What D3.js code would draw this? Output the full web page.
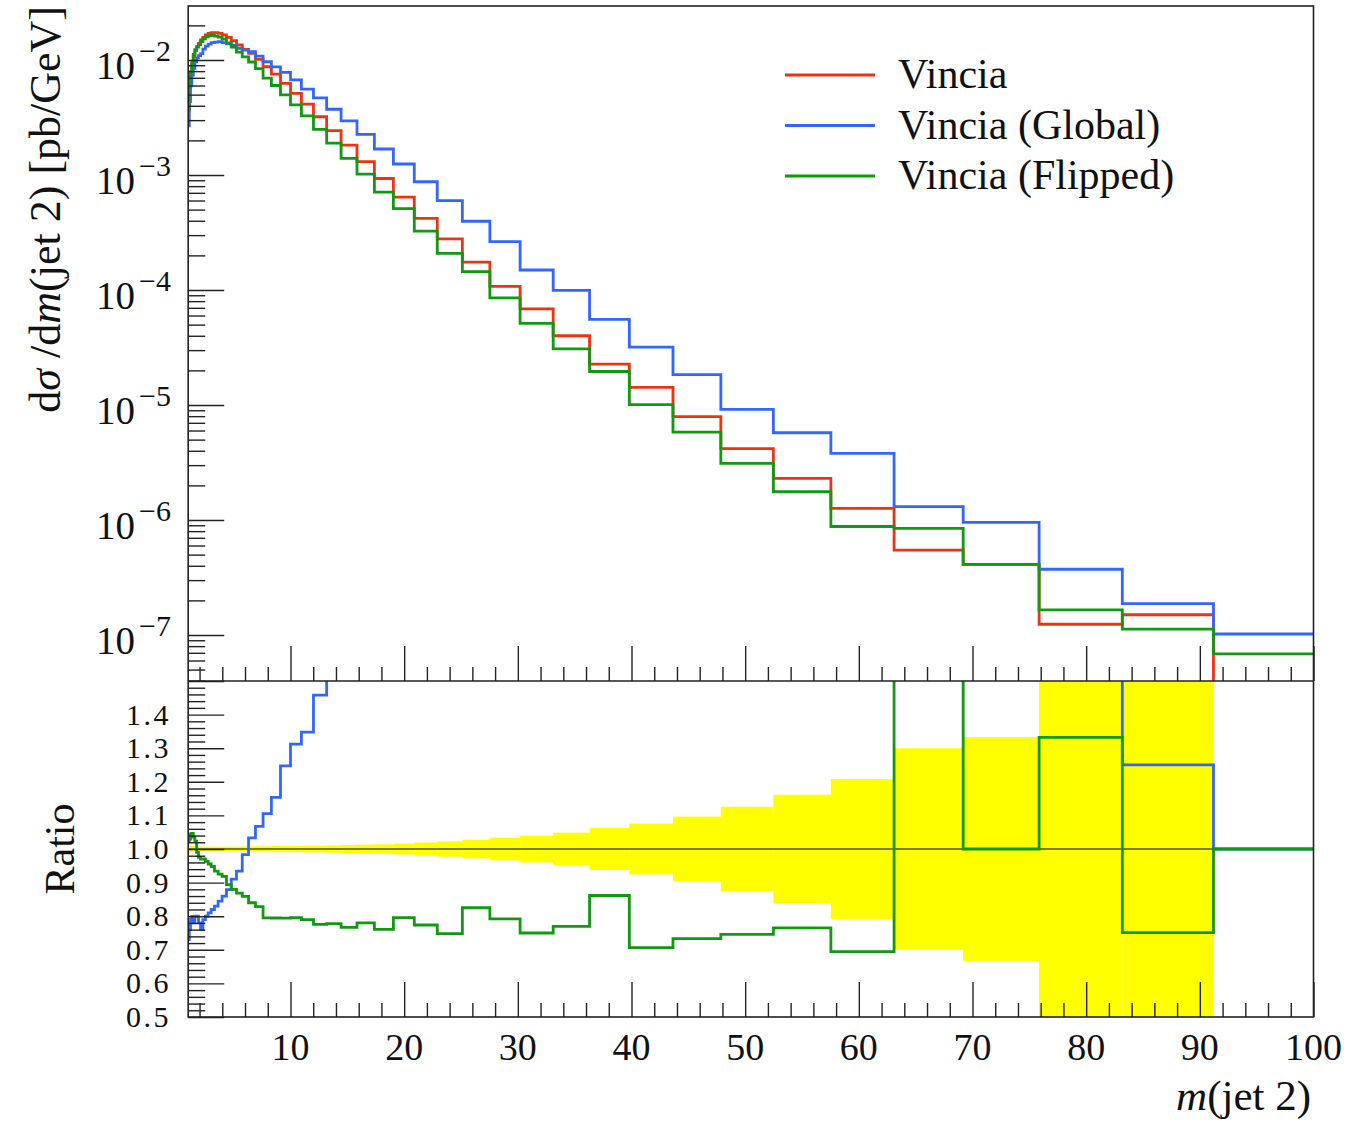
<!DOCTYPE html>
<html>
<head>
<meta charset="utf-8">
<script src="https://cdnjs.cloudflare.com/ajax/libs/d3/7.8.5/d3.min.js"></script>
<style>
  body { margin: 0; background: #fff; }
  text { font-family: "Liberation Serif", "Times New Roman", serif; fill: #111; }
</style>
</head>
<body>
<div id="chart"></div>
<script>
// bin edges of m(jet 2) [GeV]
var edges = [1.000, 1.096, 1.202, 1.318, 1.445, 1.585, 1.738, 1.905, 2.089, 2.291,
             2.512, 2.754, 3.020, 3.311, 3.631, 3.981, 4.365, 4.786, 5.248, 5.754,
             6.310, 6.918, 7.586, 8.318, 9.120, 10.00, 10.96, 12.02, 13.18, 14.45,
             15.85, 17.38, 19.05, 20.89, 22.91, 25.12, 27.54, 30.20, 33.11, 36.31,
             39.81, 43.65, 47.86, 52.48, 57.54, 63.10, 69.18, 75.86, 83.18, 91.20, 100.0];

// dsigma/dm [pb/GeV], one value per bin
var vincia = [3.67e-3, 5.71e-3, 7.55e-3, 9.23e-3, 1.083e-2, 1.205e-2, 1.305e-2, 1.397e-2, 1.492e-2, 1.576e-2,
              1.650e-2, 1.700e-2, 1.727e-2, 1.727e-2, 1.707e-2, 1.650e-2, 1.576e-2, 1.471e-2, 1.350e-2, 1.239e-2,
              1.144e-2, 1.014e-2, 8.74e-3, 7.55e-3, 6.27e-3, 5.13e-3, 4.14e-3, 3.21e-3, 2.43e-3, 1.82e-3,
              1.305e-3, 9.32e-4, 6.41e-4, 4.20e-4, 2.78e-4, 1.75e-4, 1.077e-4, 6.84e-5, 4.00e-5, 2.27e-5,
              1.425e-5, 7.91e-6, 4.17e-6, 2.30e-6, 1.264e-6, 5.48e-7, 4.12e-7, 1.24e-7, 1.50e-7, 0];

var vinciaGlobal = [2.68e-3, 4.34e-3, 5.97e-3, 7.38e-3, 8.45e-3, 9.64e-3, 1.044e-2, 1.090e-2, 1.134e-2, 1.245e-2,
                    1.320e-2, 1.377e-2, 1.416e-2, 1.433e-2, 1.442e-2, 1.419e-2, 1.385e-2, 1.339e-2, 1.261e-2, 1.218e-2,
                    1.182e-2, 1.082e-2, 9.66e-3, 8.71e-3, 7.82e-3, 6.73e-3, 5.58e-3, 4.68e-3, 3.73e-3, 2.95e-3,
                    2.26e-3, 1.683e-3, 1.246e-3, 8.74e-4, 5.98e-4, 3.96e-4, 2.63e-4, 1.492e-4, 9.94e-5, 5.56e-5,
                    3.18e-5, 1.834e-5, 9.18e-6, 5.74e-6, 3.80e-6, 1.305e-6, 9.55e-7, 3.73e-7, 1.876e-7, 1.02e-7];

var vinciaFlipped = [3.75e-3, 5.88e-3, 7.89e-3, 9.66e-3, 1.121e-2, 1.233e-2, 1.292e-2, 1.362e-2, 1.447e-2, 1.529e-2,
                     1.589e-2, 1.624e-2, 1.637e-2, 1.613e-2, 1.579e-2, 1.516e-2, 1.409e-2, 1.294e-2, 1.173e-2, 1.064e-2,
                     9.61e-3, 8.40e-3, 6.95e-3, 6.00e-3, 4.98e-3, 4.08e-3, 3.27e-3, 2.49e-3, 1.89e-3, 1.396e-3,
                     1.018e-3, 7.09e-4, 5.10e-4, 3.25e-4, 2.08e-4, 1.444e-4, 8.53e-5, 5.13e-5, 3.08e-5, 1.956e-5,
                     1.007e-5, 5.80e-6, 3.11e-6, 1.76e-6, 8.78e-7, 8.44e-7, 4.12e-7, 1.652e-7, 1.127e-7, 6.84e-8];

// relative stat. uncertainty of the reference (yellow band)
var vinciaRelErr = [0.014, 0.012, 0.010, 0.009, 0.008, 0.008, 0.007, 0.007, 0.007, 0.007,
                    0.007, 0.007, 0.007, 0.007, 0.007, 0.007, 0.007, 0.007, 0.007, 0.008,
                    0.008, 0.008, 0.008, 0.009, 0.009, 0.009, 0.010, 0.010, 0.011, 0.012,
                    0.013, 0.0138, 0.0163, 0.0193, 0.0228, 0.0277, 0.0336, 0.040, 0.0485, 0.0623,
                    0.0757, 0.0964, 0.1256, 0.1617, 0.208, 0.30, 0.333, 0.7, 0.7, 0];

var seriesNames = ["Vincia", "Vincia (Global)", "Vincia (Flipped)"];
var seriesColors = ["#ee3311", "#3366ff", "#119911"];
var xTickLabels = [10, 20, 30, 40, 50, 60, 70, 80, 90, 100];
var yTopTickLabels = [1e-7, 1e-6, 1e-5, 1e-4, 1e-3, 1e-2];
var ratioTickLabels = [0.5, 0.6, 0.7, 0.8, 0.9, 1.0, 1.1, 1.2, 1.3, 1.4];

var W = 1361, H = 1123;
// frame edges in px (top panel above plotMid, ratio panel below)
var plotLeft = 188.2, plotRight = 1313.5, plotTop = 6, plotMid = 681, plotBottom = 1017;

var svg = d3.select("#chart").append("svg")
    .attr("width", W).attr("height", H);

var x = d3.scaleLinear().domain([1, 100]).range([plotLeft, plotRight]);
var yTop = d3.scaleLog().domain([Math.pow(10, -7.4), Math.pow(10, -1.5304)]).range([plotMid, plotTop]);
var yRatio = d3.scaleLinear().domain([0.5, 1.5]).range([plotBottom, plotMid]);

var defs = svg.append("defs");
defs.append("clipPath").attr("id", "clipTop").append("rect")
    .attr("x", plotLeft).attr("y", plotTop).attr("width", plotRight - plotLeft).attr("height", plotMid - plotTop);
defs.append("clipPath").attr("id", "clipRatio").append("rect")
    .attr("x", plotLeft).attr("y", plotMid).attr("width", plotRight - plotLeft).attr("height", plotBottom - plotMid);

// yellow band in the ratio panel
svg.append("g").attr("clip-path", "url(#clipRatio)")
  .selectAll("rect")
    .data(vinciaRelErr)
  .enter().append("rect")
    .attr("x", function(d, i) { return x(edges[i]); })
    .attr("width", function(d, i) { return x(edges[i + 1]) - x(edges[i]) + 0.3; })
    .attr("y", function(d) { return yRatio(Math.min(1 + d, 1.6)); })
    .attr("height", function(d) { return yRatio(Math.max(1 - d, 0.4)) - yRatio(Math.min(1 + d, 1.6)); })
    .attr("fill", "#ffff00");

svg.append("line")
    .attr("x1", plotLeft).attr("x2", plotRight)
    .attr("y1", yRatio(1)).attr("y2", yRatio(1))
    .attr("stroke", "#000").attr("stroke-width", 1.2);

function stepPoints(vals) {
  return edges.map(function(e, i) { return [e, vals[Math.min(i, vals.length - 1)]]; });
}

var lineTop = d3.line()
    .x(function(d) { return x(d[0]); })
    .y(function(d) { return d[1] > 0 ? yTop(d[1]) : plotMid + 40; })
    .curve(d3.curveStepAfter);

var lineRatio = d3.line()
    .x(function(d) { return x(d[0]); })
    .y(function(d) { return yRatio(Math.max(0.3, Math.min(d[1], 1.7))); })
    .curve(d3.curveStepAfter);

var allSeries = [vincia, vinciaGlobal, vinciaFlipped];

// main panel histograms
var gTop = svg.append("g").attr("clip-path", "url(#clipTop)");
allSeries.forEach(function(s, k) {
  gTop.append("path")
      .attr("d", lineTop(stepPoints(s)))
      .attr("fill", "none")
      .attr("stroke", seriesColors[k])
      .attr("stroke-width", 2.8);
});

// ratio panel (Vincia is the reference)
var gRatio = svg.append("g").attr("clip-path", "url(#clipRatio)");
[1, 2].forEach(function(k) {
  var r = allSeries[k].map(function(v, i) { return vincia[i] > 0 ? v / vincia[i] : 1; });
  gRatio.append("path")
      .attr("d", lineRatio(stepPoints(r)))
      .attr("fill", "none")
      .attr("stroke", seriesColors[k])
      .attr("stroke-width", 2.8);
});

// ticks
function styleTicks(g) {
  g.select(".domain").remove();
  g.selectAll(".tick line").attr("stroke", "#222").attr("stroke-width", 1.4);
}

var xMinor = d3.range(2, 100, 2).filter(function(v) { return v % 10 != 0; });
[plotMid, plotBottom].forEach(function(yy) {
  svg.append("g").attr("transform", "translate(0," + yy + ")")
      .call(d3.axisBottom(x).tickValues(xMinor).tickSize(-14).tickFormat(""))
      .call(styleTicks);
  svg.append("g").attr("transform", "translate(0," + yy + ")")
      .call(d3.axisBottom(x).tickValues(xTickLabels).tickSize(-35).tickFormat(""))
      .call(styleTicks);
});

var yTopMinor = [];
for (var d = -8; d <= -2; d++) {
  for (var k = 2; k <= 9; k++) {
    var v = k * Math.pow(10, d);
    if (v >= yTop.domain()[0] && v <= yTop.domain()[1]) yTopMinor.push(v);
  }
}
svg.append("g").attr("transform", "translate(" + plotLeft + ",0)")
    .call(d3.axisLeft(yTop).tickValues(yTopMinor).tickSize(-17).tickFormat(""))
    .call(styleTicks);
svg.append("g").attr("transform", "translate(" + plotLeft + ",0)")
    .call(d3.axisLeft(yTop).tickValues(yTopTickLabels).tickSize(-36).tickFormat(""))
    .call(styleTicks);

var ratioMinor = d3.range(25, 76).filter(function(i) { return i % 5 != 0; }).map(function(i) { return i / 50; });
var ratioMajor = d3.range(5, 16).map(function(i) { return i / 10; });
svg.append("g").attr("transform", "translate(" + plotLeft + ",0)")
    .call(d3.axisLeft(yRatio).tickValues(ratioMinor).tickSize(-17).tickFormat(""))
    .call(styleTicks);
svg.append("g").attr("transform", "translate(" + plotLeft + ",0)")
    .call(d3.axisLeft(yRatio).tickValues(ratioMajor).tickSize(-36).tickFormat(""))
    .call(styleTicks);

// frame
svg.append("rect")
    .attr("x", plotLeft).attr("y", plotTop).attr("width", plotRight - plotLeft).attr("height", plotBottom - plotTop)
    .attr("fill", "none").attr("stroke", "#222").attr("stroke-width", 1.6);
svg.append("line")
    .attr("x1", plotLeft).attr("x2", plotRight).attr("y1", plotMid).attr("y2", plotMid)
    .attr("stroke", "#222").attr("stroke-width", 1.6);

// tick labels
svg.selectAll(".xlab")
    .data(xTickLabels)
  .enter().append("text")
    .attr("class", "xlab")
    .attr("x", function(d) { return x(d); })
    .attr("y", 1060)
    .attr("text-anchor", "middle")
    .style("font-size", "38px")
    .text(function(d) { return d; });

var ylab = svg.selectAll(".ylab")
    .data(yTopTickLabels)
  .enter().append("text")
    .attr("class", "ylab")
    .attr("x", 171)
    .attr("y", function(d) { return yTop(d) + 19; })
    .attr("text-anchor", "end")
    .style("font-size", "39px");
ylab.append("tspan").text("10");
ylab.append("tspan")
    .attr("dx", 4)
    .attr("dy", -18)
    .style("font-size", "30px")
    .text(function(d) { return "\u2212" + Math.round(-Math.log10(d)); });

svg.selectAll(".rlab")
    .data(ratioTickLabels)
  .enter().append("text")
    .attr("class", "rlab")
    .attr("x", 171)
    .attr("y", function(d) { return yRatio(d) + 10; })
    .attr("text-anchor", "end")
    .style("font-size", "30px")
    .style("letter-spacing", "2.5px")
    .text(function(d) { return d3.format(".1f")(d); });

// axis titles
var yTitle = svg.append("text")
    .attr("transform", "translate(60," + plotTop + ") rotate(-90)")
    .attr("text-anchor", "end")
    .style("font-size", "44px");
yTitle.append("tspan").text("d");
yTitle.append("tspan").style("font-style", "italic").text("\u03c3");
yTitle.append("tspan").text(" /d");
yTitle.append("tspan").style("font-style", "italic").text("m");
yTitle.append("tspan").text("(jet 2) [pb/GeV]");

svg.append("text")
    .attr("transform", "translate(74," + yRatio(1) + ") rotate(-90)")
    .attr("text-anchor", "middle")
    .style("font-size", "42px")
    .text("Ratio");

var xTitle = svg.append("text")
    .attr("x", 1311).attr("y", 1110)
    .attr("text-anchor", "end")
    .style("font-size", "43px");
xTitle.append("tspan").style("font-style", "italic").text("m");
xTitle.append("tspan").text("(jet 2)");

// legend
var legend = svg.selectAll(".legend")
    .data(seriesNames)
  .enter().append("g")
    .attr("class", "legend")
    .attr("transform", function(d, i) { return "translate(785," + (75 + i * 50.5) + ")"; });
legend.append("line")
    .attr("x1", 0).attr("x2", 90)
    .attr("stroke", function(d, i) { return seriesColors[i]; })
    .attr("stroke-width", 2.8);
legend.append("text")
    .attr("x", 113).attr("y", 13)
    .style("font-size", "42px")
    .text(function(d) { return d; });
</script>
</body>
</html>
